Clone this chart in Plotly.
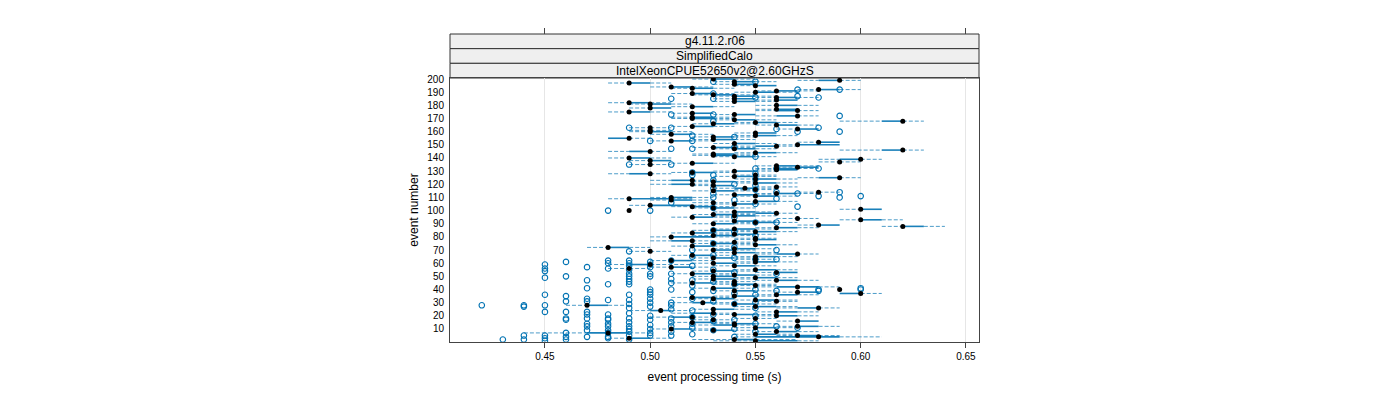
import plotly.graph_objects as go

# ---------------- data (times in centiseconds) ----------------
events = list(range(1, 201))

wlo_cs = [53, 52, 48, 54, 56, 54, 44, 55, 52, 50,
          54, 56, 52, 53, 51, 56, 52, 54, 50, 55,
          53, 51, 55, 49, 52, 56, 54, 46, 53, 51,
          55, 54, 52, 51, 53, 55, 59, 56, 53, 59,
          52, 55, 54, 53, 51, 53, 55, 52, 54, 52,
          53, 51, 55, 52, 54, 48, 50, 53, 48, 52,
          54, 50, 54, 52, 54, 51, 55, 53, 49, 52,
          53, 47, 51, 54, 52, 53, 50, 54, 54, 50,
          52, 53, 51, 54, 52, 53, 55, 61, 57, 52,
          54, 53, 59, 56, 51, 53, 52, 54, 53, 49,
          59, 52, 51, 49, 53, 52, 54, 50, 48, 50,
          54, 53, 55, 57, 52, 54, 53, 55, 52, 50,
          54, 52, 50, 54, 57, 53, 54, 48, 51, 53,
          55, 55, 56, 55, 49, 51, 58, 49, 58, 48,
          53, 52, 52, 54, 48, 59, 53, 52, 54, 56,
          53, 57, 50, 52, 48, 52, 54, 50, 54, 49,
          49, 56, 49, 51, 55, 52, 54, 59, 53, 51,
          51, 55, 53, 51, 48, 55, 55, 49, 51, 55,
          49, 48, 53, 55, 53, 55, 53, 52, 51, 54,
          55, 57, 51, 50, 54, 53, 48, 53, 57, 52]

q1_cs = [55, 54, 49, 55, 57, 55, 47, 56, 53, 51,
         55, 57, 53, 54, 52, 57, 53, 55, 51, 56,
         54, 52, 56, 50, 53, 57, 55, 47, 54, 52,
         56, 55, 53, 52, 54, 56, 59, 57, 54, 59,
         53, 56, 55, 54, 52, 54, 56, 53, 55, 53,
         54, 52, 56, 53, 55, 49, 51, 54, 49, 53,
         55, 51, 55, 53, 55, 52, 56, 54, 50, 53,
         54, 48, 52, 55, 53, 54, 51, 55, 55, 51,
         53, 54, 52, 55, 53, 54, 56, 62, 58, 53,
         55, 54, 60, 57, 52, 54, 53, 55, 54, 49,
         60, 53, 52, 50, 54, 53, 55, 51, 49, 51,
         55, 54, 56, 58, 53, 55, 54, 56, 53, 51,
         55, 53, 51, 55, 58, 54, 55, 49, 52, 54,
         56, 56, 57, 56, 50, 52, 59, 50, 59, 49,
         54, 53, 53, 55, 49, 61, 54, 53, 55, 57,
         54, 58, 51, 53, 48, 53, 55, 51, 55, 50,
         50, 57, 50, 52, 56, 53, 55, 61, 54, 52,
         52, 56, 54, 52, 49, 56, 56, 50, 52, 56,
         50, 49, 54, 56, 54, 56, 54, 53, 52, 55,
         56, 58, 52, 51, 55, 54, 49, 54, 58, 53]

med_cs = [55, 54, 49, 58, 57, 55, 48, 56, 53, 51,
          55, 57, 54, 54, 52, 57, 53, 55, 52, 56,
          54, 53, 56, 50.5, 53, 58, 55, 47, 54, 52.5,
          56, 55, 53, 52, 54, 56, 60, 57, 54, 59,
          53, 57, 55, 54, 52, 54, 56, 53, 55, 53,
          54, 52, 56, 53, 55, 49, 51, 54, 50, 53,
          55, 51, 55, 53, 55, 52, 57, 54, 50, 53,
          54, 48, 52, 55, 53, 54, 52, 55, 55, 51,
          53, 54, 52, 55, 53, 54, 56, 62, 58, 53,
          55, 54, 60, 57, 52, 54, 53, 56, 54, 49,
          60, 53, 52, 50, 54, 53, 55, 51, 49, 51,
          55, 54, 56, 58, 53, 55, 54.5, 56, 53, 52,
          55, 53, 52, 55, 59, 54, 55, 50, 52, 54,
          56, 56, 57, 56, 50, 52, 59, 50, 60, 49,
          54, 53, 53, 55, 50, 62, 54, 53, 56, 57,
          54, 58, 51, 53, 49, 53, 55, 51, 55, 50,
          50, 57, 50, 52, 56, 53, 55, 62, 54, 52,
          52, 57, 54, 52, 49, 57, 56, 50, 52, 56,
          50, 49, 54, 56, 54, 56, 54, 53, 52, 55,
          56, 58, 52, 51, 55, 54, 49, 54, 59, 53]

q3_cs = [57, 55, 50, 59, 58, 56, 49, 57, 54, 52,
         56, 58, 54, 55, 53, 58, 53, 55, 52, 57,
         55, 53, 57, 51, 54, 58, 56, 48, 55, 53,
         56, 56, 54, 53, 55, 57, 60, 58, 55, 59,
         54, 58, 55, 55, 53, 54, 57, 54, 56, 54,
         55, 53, 57, 54, 56, 49, 52, 55, 50, 54,
         56, 52, 55, 54, 56, 53, 57, 55, 50, 54,
         55, 49, 53, 56, 54, 54, 52, 56, 55, 53,
         54, 55, 53, 56, 54, 55, 57, 63, 59, 54,
         56, 55, 61, 57, 53, 55, 54, 56, 55, 49,
         61, 54, 53, 52, 55, 53, 56, 52, 51, 52,
         56, 55, 57, 58, 54, 55, 55, 56, 54, 52,
         56, 54, 52, 56, 59, 55, 55, 50, 53, 55,
         57, 57, 58, 57, 50, 53, 59, 51, 60, 50,
         55, 54, 54, 56, 50, 62, 55, 54, 56, 59,
         55, 59, 52, 54, 49, 54, 56, 52, 56, 51,
         50, 58, 50, 53, 57, 54, 56, 62, 55, 53,
         53, 57, 55, 53, 50, 57, 57, 51, 53, 57,
         51, 50, 55, 57, 55, 57, 55, 54, 53, 56,
         57, 59, 53, 52, 56, 55, 50, 55, 59, 54]

whi_cs = [58, 57, 51, 61, 59, 57, 50, 58, 55, 53,
          57, 59, 55, 56, 54, 58, 54, 56, 53, 58,
          56, 54, 58, 52, 55, 59, 57, 49, 56, 54,
          57, 57, 54, 54, 56, 58, 61, 58, 56, 59,
          55, 59, 56, 56, 54, 55, 58, 55, 57, 54,
          56, 54, 57, 55, 57, 50, 53, 56, 52, 55,
          57, 53, 56, 55, 57, 54, 58, 56, 51, 55,
          56, 50, 54, 57, 55, 55, 53, 56, 56, 54,
          55, 56, 54, 57, 55, 56, 58, 64, 59, 55,
          57, 56, 62, 58, 54, 56, 55, 57, 56, 49,
          61, 55, 54, 53, 56, 54, 57, 53, 52, 53,
          57, 56, 58, 59, 55, 56, 56, 57, 54, 53,
          57, 55, 53, 57, 60, 56, 56, 51, 54, 56,
          57, 58, 58, 58, 51, 54, 60, 51, 61, 51,
          56, 55, 55, 57, 51, 63, 56, 55, 57, 59,
          56, 59, 53, 55, 50, 55, 57, 53, 56, 52,
          51, 58, 51, 54, 58, 55, 57, 63, 56, 54,
          54, 58, 55, 53, 51, 58, 57, 51, 54, 58,
          52, 51, 56, 57, 55, 58, 56, 55, 54, 57,
          58, 60, 54, 53, 56, 55, 51, 56, 60, 55]

# outliers: event numbers per time value (centiseconds)
out_042 = [28]
out_043 = [2]
out_044 = [28, 27, 5, 2]
out_045 = [59, 56, 54, 49, 36, 28, 23, 5, 3, 1]
out_046 = [61, 50, 35, 31, 23, 18, 17, 7, 4, 2]
out_047 = [57, 47, 41, 33, 31, 23, 21, 18, 14, 12, 9, 4]
out_048 = [100, 62, 60, 56, 44, 32, 21, 18, 17, 14, 12, 9, 7, 4, 3]
out_049 = [163, 135, 69, 62, 60, 58, 55, 52, 50, 48, 46, 44, 36, 32, 29,
           26, 22, 18, 15, 12, 10, 8, 5, 2]
out_050 = [153, 100, 61, 59, 57, 52, 50, 40, 38, 36, 33, 30, 27, 20, 17,
           13, 10, 7, 5]
out_051 = [185, 173, 163, 147, 135, 106, 62, 52, 48, 45, 40, 30, 28, 25,
           18, 15, 12, 8, 5]
out_052 = [157, 153, 147, 129, 127, 70, 65, 58, 47, 43, 38, 33, 24, 19, 14, 11, 6]
out_053 = [198, 189, 185, 173, 168, 127, 123, 117, 113, 110, 102, 85, 75,
           66, 55, 46, 39, 31, 21, 16, 9]
out_054 = [156, 148, 120, 108, 95, 84, 72, 64, 53, 44, 37, 29, 17, 10, 4]
out_055 = [198, 186, 141, 132, 128, 124, 119, 116, 105, 91, 81, 63, 40, 36,
           30, 26, 20, 14, 8]
out_056 = [162, 132, 114, 109, 91, 70, 63, 52, 39, 12]
out_057 = [192, 187, 160, 113, 103, 11]
out_058 = [186, 163, 132, 111, 40, 39]
out_059 = [192, 172, 160, 114, 110]
out_060 = [111, 41, 40]

outlier_groups = [(42, out_042), (43, out_043), (44, out_044), (45, out_045),
                  (46, out_046), (47, out_047), (48, out_048), (49, out_049),
                  (50, out_050), (51, out_051), (52, out_052), (53, out_053),
                  (54, out_054), (55, out_055), (56, out_056), (57, out_057),
                  (58, out_058), (59, out_059), (60, out_060)]

x_ticks = [0.45, 0.50, 0.55, 0.60, 0.65]
x_tick_text = ["0.45", "0.50", "0.55", "0.60", "0.65"]
y_ticks = [10, 20, 30, 40, 50, 60, 70, 80, 90, 100,
           110, 120, 130, 140, 150, 160, 170, 180, 190, 200]
strips = ["g4.11.2.r06", "SimplifiedCalo", "IntelXeonCPUE52650v2@2.60GHzS"]

# ---------------- build segments ----------------
wx, wy, bx, by = [], [], [], []
for e, a, b, m, c, d in zip(events, wlo_cs, q1_cs, med_cs, q3_cs, whi_cs):
    if b > a:
        wx += [a / 100, b / 100, None]
        wy += [e, e, None]
    if d > c:
        wx += [c / 100, d / 100, None]
        wy += [e, e, None]
    if c > b:
        bx += [b / 100, c / 100, None]
        by += [e, e, None]

ox, oy = [], []
for v, evs in outlier_groups:
    for e in evs:
        ox.append(v / 100)
        oy.append(e)

BLUE = "#0072B2"
FONT = "Liberation Sans, Arial, sans-serif"

fig = go.Figure()
fig.add_trace(go.Scatter(x=wx, y=wy, mode="lines", hoverinfo="skip",
                         line=dict(color="rgba(0,114,178,0.7)", width=1, dash="4px,2px"),
                         showlegend=False))
fig.add_trace(go.Scatter(x=bx, y=by, mode="lines", hoverinfo="skip",
                         line=dict(color="rgba(0,114,178,0.9)", width=1.6), showlegend=False))
fig.add_trace(go.Scatter(x=ox, y=oy, mode="markers",
                         marker=dict(symbol="circle-open", size=5.5, color=BLUE,
                                     line=dict(width=1.1, color=BLUE)),
                         showlegend=False))
fig.add_trace(go.Scatter(x=[m / 100 for m in med_cs], y=events, mode="markers",
                         marker=dict(symbol="circle", size=5, color="black"),
                         showlegend=False))
# top tick axis (above strips)
fig.add_trace(go.Scatter(x=[None], y=[None], xaxis="x2", yaxis="y", showlegend=False))

XR = [0.4049, 0.6562]
YDOM_TOP = 264 / 308

fig.update_layout(
    width=1400, height=400,
    margin=dict(l=450, r=421, t=34, b=58),
    paper_bgcolor="white", plot_bgcolor="white",
    font=dict(family=FONT, color="black"),
    xaxis=dict(range=XR, tickvals=x_ticks, ticktext=x_tick_text,
               ticks="outside", ticklen=5, tickcolor="#444", tickwidth=1,
               showline=True, linecolor="#444", linewidth=1, mirror=True,
               showgrid=True, gridcolor="#e6e6e6", gridwidth=1, zeroline=False,
               tickfont=dict(size=10, family=FONT),
               title=dict(text="event processing time (s)", font=dict(size=12, family=FONT),
                          standoff=11)),
    xaxis2=dict(range=XR, overlaying="x", anchor="free", position=1.0, side="top",
                tickvals=x_ticks, ticks="outside", ticklen=6, tickcolor="#444",
                showticklabels=False, showgrid=False, showline=False, zeroline=False),
    yaxis=dict(range=[0.1, 200.8], domain=[0, YDOM_TOP], tickvals=y_ticks,
               ticks="", showline=True, linecolor="#444", linewidth=1, mirror=True,
               showgrid=False, zeroline=False, tickfont=dict(size=10, family=FONT),
               ticklabelstandoff=3,
               title=dict(text="event number", font=dict(size=12, family=FONT),
                          standoff=6)),
)

# strip panels
h = (1 - YDOM_TOP) / 3
for i, label in enumerate(strips):
    y1 = 1 - i * h
    y0 = y1 - h
    fig.add_shape(type="rect", xref="paper", yref="paper", x0=0, x1=1, y0=y0, y1=y1,
                  fillcolor="#efefef", line=dict(color="#333", width=1), layer="below")
    fig.add_annotation(text=label, xref="paper", yref="paper", x=0.5, y=(y0 + y1) / 2,
                       showarrow=False, font=dict(size=12, family=FONT, color="black"),
                       xanchor="center", yanchor="middle")

fig.write_html("out.html")
